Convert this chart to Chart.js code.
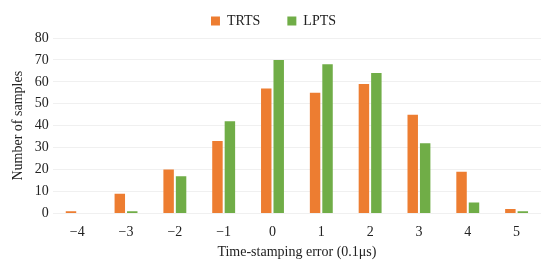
<!DOCTYPE html>
<html>
<head>
<meta charset="utf-8">
<script src="https://cdn.jsdelivr.net/npm/chart.js@4/dist/chart.umd.min.js"></script>
<style>
  html, body { margin: 0; padding: 0; background: #fff; }
  #wrap { width: 550px; height: 268px; }
</style>
</head>
<body>
<div id="wrap"><canvas id="chart"></canvas></div>
<script>
// Time-stamping error bins (units of 0.1 µs)
const categories = ['\u22124', '\u22123', '\u22122', '\u22121', '0', '1', '2', '3', '4', '5'];
const trts = [1, 9, 20, 33, 57, 55, 59, 45, 19, 2];
const lpts = [0, 1, 17, 42, 70, 68, 64, 32, 5, 1];

const font = { family: '"Liberation Serif", "Times New Roman", serif', size: 14 };

new Chart(document.getElementById('chart'), {
  type: 'bar',
  data: {
    labels: categories,
    datasets: [
      { label: 'TRTS', data: trts, backgroundColor: '#ED7D31', categoryPercentage: 0.51, barPercentage: 0.84 },
      { label: 'LPTS', data: lpts, backgroundColor: '#70AD47', categoryPercentage: 0.51, barPercentage: 0.84 }
    ]
  },
  options: {
    responsive: true,
    maintainAspectRatio: false,
    animation: false,
    layout: { padding: { left: 6, right: 9, top: -13, bottom: 7 } },
    plugins: {
      tooltip: { enabled: false },
      legend: {
        position: 'top',
        labels: { color: '#222', font: font, boxWidth: 9, boxHeight: 9, padding: 27 }
      }
    },
    scales: {
      x: {
        grid: { display: false },
        border: { display: false },
        ticks: { color: '#222', font: font, padding: 3, autoSkip: false, maxRotation: 0 },
        title: { display: true, text: 'Time-stamping error (0.1\u03bcs)', color: '#222', font: font, padding: { top: 0, bottom: 0 } }
      },
      y: {
        min: 0,
        max: 80,
        ticks: { stepSize: 10, color: '#222', font: font, padding: 4, autoSkip: false },
        grid: { color: '#f0f0f0', drawTicks: false },
        border: { display: false },
        title: { display: true, text: 'Number of samples', color: '#222', font: font, padding: { bottom: 4 } }
      }
    }
  }
});
</script>
</body>
</html>
